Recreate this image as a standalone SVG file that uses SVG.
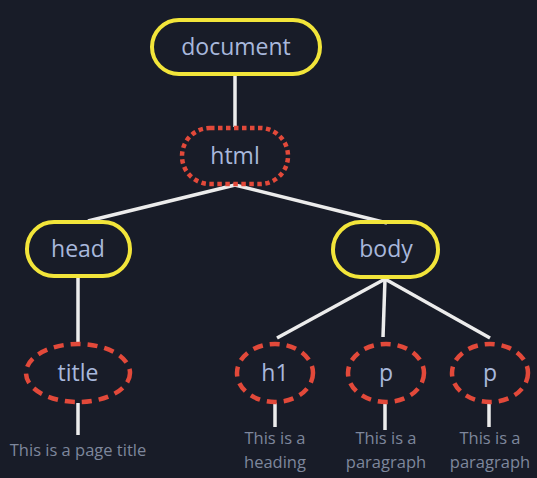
<svg xmlns="http://www.w3.org/2000/svg" width="537" height="478" viewBox="0 0 537 478">
<style>
.bg{fill:#181c28}
.yel{fill:none;stroke:#f2e53a;stroke-width:4}
.dash{fill:none;stroke:#e2493a;stroke-width:4.5;stroke-dasharray:10 7}
.dot{fill:none;stroke:#e2493a;stroke-width:4.5;stroke-dasharray:4.5 3.5}
.lbl{font-family:"Open Sans","Liberation Sans",sans-serif;fill:#a8b8dc;text-anchor:middle}
.big{font-size:23px}
.sm{font-family:"Open Sans","Liberation Sans",sans-serif;fill:#7e879c;font-size:16.5px;text-anchor:middle}
.ln{stroke:#ececec;stroke-width:3.5;fill:none;stroke-linecap:butt}
</style>
<rect class="bg" x="0" y="0" width="537" height="478"/>
<g id="connectors">
<line class="ln" x1="235" y1="75" x2="235" y2="127"/>
<line class="ln" x1="235" y1="185" x2="88" y2="221"/>
<line class="ln" x1="235" y1="185" x2="387" y2="223"/>
<line class="ln" x1="78" y1="278" x2="78" y2="343"/>
<line class="ln" x1="385" y1="279" x2="277" y2="338"/>
<line class="ln" x1="385" y1="279" x2="383" y2="337"/>
<line class="ln" x1="385" y1="279" x2="490" y2="338"/>
<line class="ln" x1="78" y1="403" x2="78" y2="435"/>
<line class="ln" x1="275" y1="403" x2="275" y2="427"/>
<line class="ln" x1="385" y1="403" x2="385" y2="430"/>
<line class="ln" x1="489" y1="403" x2="489" y2="427"/>
</g>
<g id="document">
<rect class="yel" x="152" y="20" width="168" height="54" rx="27"/>
<text class="lbl big" x="236" y="55">document</text>
</g>
<g id="html">
<rect class="dot" x="182" y="128" width="106" height="56" rx="28"/>
<text class="lbl big" x="235" y="164">html</text>
</g>
<g id="head">
<rect class="yel" x="27" y="222" width="103" height="54" rx="27"/>
<text class="lbl big" x="78" y="257">head</text>
</g>
<g id="body">
<rect class="yel" x="333" y="222" width="105" height="55" rx="27.5"/>
<text class="lbl big" x="386" y="257">body</text>
</g>
<g id="title">
<ellipse class="dash" cx="78" cy="373" rx="52" ry="29"/>
<text class="lbl big" x="78" y="381">title</text>
<text class="sm" x="78" y="456">This is a page title</text>
</g>
<g id="h1">
<ellipse class="dash" cx="275" cy="373" rx="38" ry="29"/>
<text class="lbl big" x="275" y="381">h1</text>
<text class="sm" x="275" y="444">This is a</text>
<text class="sm" x="275" y="468">heading</text>
</g>
<g id="p1">
<ellipse class="dash" cx="386" cy="373" rx="38" ry="29"/>
<text class="lbl big" x="386" y="381">p</text>
<text class="sm" x="386" y="444">This is a</text>
<text class="sm" x="386" y="468">paragraph</text>
</g>
<g id="p2">
<ellipse class="dash" cx="490" cy="373" rx="38" ry="29"/>
<text class="lbl big" x="490" y="381">p</text>
<text class="sm" x="490" y="444">This is a</text>
<text class="sm" x="490" y="468">paragraph</text>
</g>
</svg>
